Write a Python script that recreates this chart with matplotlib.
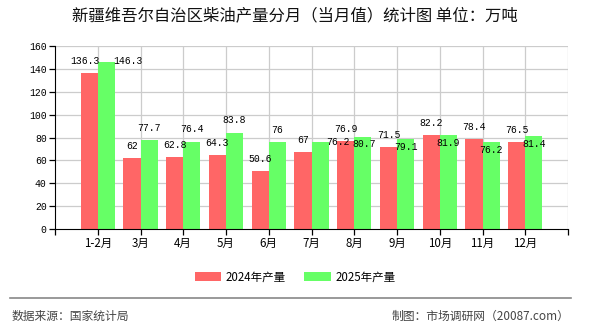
import matplotlib
matplotlib.use("Agg")
import matplotlib.pyplot as plt
from matplotlib.patches import Patch
import numpy as np

plt.rcParams['font.family'] = ['Noto Sans CJK SC', 'DejaVu Sans']

categories = ["1-2月", "3月", "4月", "5月", "6月", "7月", "8月", "9月", "10月", "11月", "12月"]
v2024 = [136.3, 62, 62.8, 64.3, 50.6, 67, 76.9, 71.5, 82.2, 78.4, 76.5]
v2025 = [146.3, 77.7, 76.4, 83.8, 76, 76.2, 80.7, 79.1, 81.9, 76.2, 81.4]
label2024 = ["136.3", "62", "62.8", "64.3", "50.6", "67", "76.9", "71.5", "82.2", "78.4", "76.5"]
label2025 = ["146.3", "77.7", "76.4", "83.8", "76", "76.2", "80.7", "79.1", "81.9", "76.2", "81.4"]
series_names = ["2024年产量", "2025年产量"]
yticks = [0, 20, 40, 60, 80, 100, 120, 140, 160]

# label placement offsets (pixels; positive dy = upwards) to mimic reference
red_dx = [-4, 0, 0, 0, 0, 0, 0, 0, 0, 0, 0]
red_dy = [12] * 11
green_dx = [22, 0, 0, 0, 0, 18, 1, 0, 0, 0, 0]
green_dy = [1, 12, 13, 13, 12, 0, -7, -8, -8, -8, -8]

RED = "#ff6666"
GREEN = "#66ff66"

fig = plt.figure(figsize=(5.9, 3.3), dpi=100)
ax = fig.add_axes([55 / 590, 1 - 229 / 330, 513 / 590, 183 / 330])

x = np.arange(1, len(categories) + 1)
w = 0.4
ax.bar(x - w / 2, v2024, width=w, color=RED, zorder=3)
ax.bar(x + w / 2, v2025, width=w, color=GREEN, zorder=3)

mono = ['Liberation Mono', 'DejaVu Sans Mono']
for i in range(len(categories)):
    ax.annotate(label2024[i], (x[i] - w / 2, v2024[i]), xytext=(red_dx[i], red_dy[i]),
                textcoords='offset pixels', ha='center', va='center',
                fontsize=7.0, family=mono, color='black', zorder=5)
    ax.annotate(label2025[i], (x[i] + w / 2, v2025[i]), xytext=(green_dx[i], green_dy[i]),
                textcoords='offset pixels', ha='center', va='center',
                fontsize=7.0, family=mono, color='black', zorder=5)

ax.set_xlim(0, 12)
ax.set_ylim(0, 160)
ax.set_yticks(yticks)
ax.set_yticklabels([str(t) for t in yticks], family=mono, fontsize=7)
ax.set_xticks(np.arange(0, 13))
ax.set_xticklabels([""] + categories + [""], fontsize=8.3)

for t in yticks[1:]:
    ax.axhline(t, color="#cccccc", lw=0.9, zorder=1)
for xv in list(x) + [12]:
    ax.axvline(xv, color="#cccccc", lw=0.9, zorder=1)

for s in ['top', 'right']:
    ax.spines[s].set_visible(False)
ax.spines['left'].set_color('black')
ax.spines['bottom'].set_color('black')
ax.spines['left'].set_zorder(4)
ax.spines['bottom'].set_zorder(4)
ax.tick_params(axis='both', length=4, width=0.9, color='black', pad=2)

fig.text(0.5, 1 - 16 / 330, "新疆维吾尔自治区柴油产量分月（当月值）统计图 单位：万吨",
         ha='center', va='center', fontsize=11.8, color='#111111')

handles = [Patch(facecolor=RED, edgecolor='none'), Patch(facecolor=GREEN, edgecolor='none')]
fig.legend(handles, series_names, loc='center', bbox_to_anchor=(0.5, 1 - 277 / 330),
           ncol=2, frameon=False, fontsize=8.3, handlelength=2.3, handleheight=0.8,
           handletextpad=0.4, columnspacing=1.6)

fig.add_artist(plt.Line2D([10 / 590, 571 / 590], [1 - 298 / 330, 1 - 298 / 330],
                          color='#888888', lw=1.2))
fig.text(12 / 590, 1 - 316 / 330, "数据来源：国家统计局", ha='left', va='center',
         fontsize=8.5, color='#444444')
fig.text(569 / 590, 1 - 316 / 330, "制图：市场调研网（20087.com）", ha='right', va='center',
         fontsize=8.5, color='#444444')

fig.savefig("out.png", dpi=100)
